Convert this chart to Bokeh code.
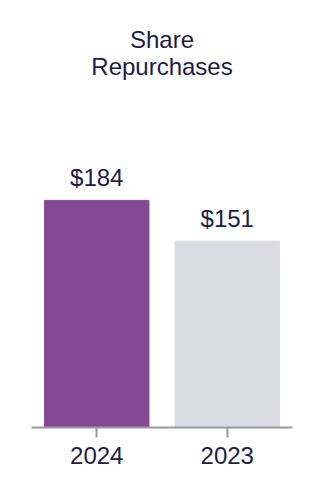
from bokeh.plotting import figure
from bokeh.models import ColumnDataSource, FactorRange, Range1d, Label
from bokeh.core.properties import value
from bokeh.embed import file_html
from bokeh.resources import INLINE

categories = ["2024", "2023"]
values = [184, 151]
labels = ["$184", "$151"]
colors = ["#834a94", "#dadbe2"]
title_lines = ["Share", "Repurchases"]

FONT = "Liberation Sans"
TXT = "#1b1c4a"

src = ColumnDataSource(dict(cat=categories, val=values, lab=labels, col=colors))

p = figure(width=322, height=500, x_range=FactorRange(*categories, range_padding=0),
           y_range=Range1d(0, 346), output_backend="svg", toolbar_location=None,
           min_border_left=31, min_border_right=30, min_border_top=0, min_border_bottom=73)
p.outline_line_color = None
p.grid.visible = False
p.yaxis.visible = False
p.background_fill_color = "white"
p.border_fill_color = "white"

p.vbar(x="cat", top="val", width=0.8, color="col", source=src)
p.text(x="cat", y="val", text="lab", source=src, text_align="center",
       text_baseline="alphabetic", y_offset=-23, text_font=value(FONT),
       text_font_size="24px", text_color=TXT)

for t, yv in zip(title_lines, [314.5, 292.5]):
    p.add_layout(Label(x=1.0, y=yv, text=t, text_align="center", text_baseline="alphabetic",
                       text_font=FONT, text_font_size="24px", text_color=TXT))

ax = p.xaxis[0]
ax.axis_line_color = "#9a9a9a"
ax.axis_line_width = 2
ax.major_tick_line_color = "#9a9a9a"
ax.major_tick_line_width = 2
ax.major_tick_out = 10
ax.major_tick_in = 0
ax.major_label_standoff = 9
ax.major_label_text_font = FONT
ax.major_label_text_font_size = "24px"
ax.major_label_text_color = TXT

open("out.html", "w").write(file_html(p, INLINE))
